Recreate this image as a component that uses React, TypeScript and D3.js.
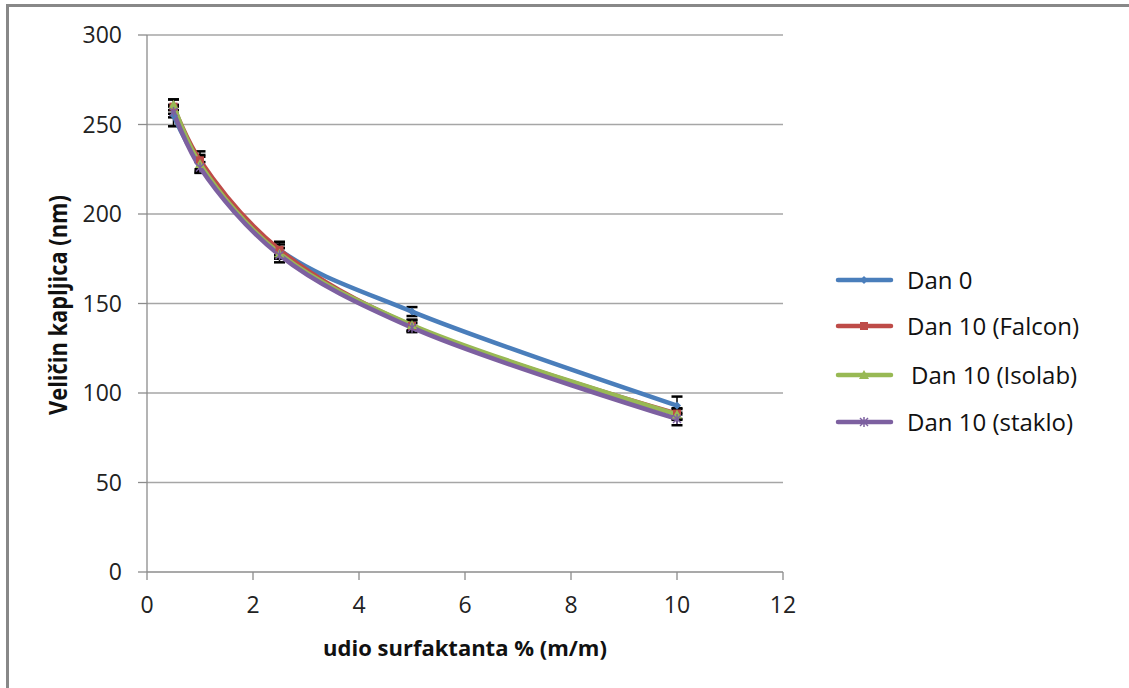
import React from "react";
import * as d3 from "d3";

const xValues = [0.5, 1, 2.5, 5, 10];
const seriesNames = ["Dan 0", "Dan 10 (Falcon)", "Dan 10 (Isolab)", "Dan 10 (staklo)"];
const dan0 = [255, 228, 180, 145.5, 93];
const falcon = [260, 230, 180, 137.5, 88.5];
const isolab = [261, 228, 178, 138, 88];
const staklo = [257, 226, 177, 136.5, 85.5];
const dan0Err = [6, 5, 3, 2.5, 5];
const falconErr = [4, 5, 4.5, 3, 3];
const isolabErr = [3, 4, 3, 3, 3];
const stakloErr = [3, 3, 4, 2.5, 3.5];
const xTicks = [0, 2, 4, 6, 8, 10, 12];
const yTicks = [0, 50, 100, 150, 200, 250, 300];
const colors = ["#4A7EBB", "#BE4B48", "#98B954", "#7D60A0"];
const markers = ["diamond", "square", "triangle", "star"];

const seriesValues = [dan0, falcon, isolab, staklo];
const seriesErrs = [dan0Err, falconErr, isolabErr, stakloErr];

const FONT = "'Open Sans', sans-serif";

function Marker({ type, x, y, color }: { type: string; x: number; y: number; color: string }) {
  if (type === "diamond") {
    const s = 4;
    return <path d={`M${x},${y - s}L${x + s},${y}L${x},${y + s}L${x - s},${y}Z`} fill={color} />;
  }
  if (type === "square") {
    return <rect x={x - 4} y={y - 4} width={8} height={8} fill={color} />;
  }
  if (type === "triangle") {
    return <path d={`M${x},${y - 5}L${x + 5},${y + 4}L${x - 5},${y + 4}Z`} fill={color} />;
  }
  return (
    <g stroke={color} strokeWidth={1.5}>
      <line x1={x - 4} y1={y - 4} x2={x + 4} y2={y + 4} />
      <line x1={x - 4} y1={y + 4} x2={x + 4} y2={y - 4} />
      <line x1={x} y1={y - 5} x2={x} y2={y + 5} />
    </g>
  );
}

export default function App() {
  const W = 1129;
  const H = 688;
  const left = 147;
  const right = 783;
  const top = 35;
  const bottom = 572;
  const x = d3.scaleLinear().domain([0, 12]).range([left, right]);
  const y = d3.scaleLinear().domain([0, 300]).range([bottom, top]);
  const line = d3
    .line<[number, number]>()
    .x((d) => x(d[0]))
    .y((d) => y(d[1]))
    .curve(d3.curveCatmullRom.alpha(0.5));

  const legendY = [280, 326, 375, 422];

  return (
    <svg
      width={W}
      height={H}
      style={{ position: "absolute", left: 0, top: 0, background: "#fff" }}
      fontFamily={FONT}
    >
      <rect x={0} y={0} width={W} height={H} fill="#fff" />
      {/* outer frame */}
      <line x1={7} y1={5.5} x2={W} y2={5.5} stroke="#888" strokeWidth={3} />
      <line x1={7.5} y1={4} x2={7.5} y2={H} stroke="#888" strokeWidth={3} />

      {/* gridlines */}
      {yTicks.filter((t) => t > 0).map((t) => (
        <line key={t} x1={left} x2={right} y1={y(t)} y2={y(t)} stroke="#A6A6A6" strokeWidth={1.3} />
      ))}
      {/* axes */}
      <line x1={left} x2={left} y1={top} y2={bottom} stroke="#8C8C8C" strokeWidth={1.3} />
      <line x1={left} x2={right} y1={bottom} y2={bottom} stroke="#8C8C8C" strokeWidth={1.3} />
      {yTicks.map((t) => (
        <g key={t}>
          <line x1={left - 9} x2={left} y1={y(t)} y2={y(t)} stroke="#8C8C8C" strokeWidth={1.3} />
          <text x={122} y={y(t)} dy="0.36em" textAnchor="end" fontSize={23} fill="#222">
            {t}
          </text>
        </g>
      ))}
      {xTicks.map((t) => (
        <g key={t}>
          <line x1={x(t)} x2={x(t)} y1={bottom} y2={bottom + 8} stroke="#8C8C8C" strokeWidth={1.3} />
          <text x={x(t)} y={613} textAnchor="middle" fontSize={23} fill="#222">
            {t}
          </text>
        </g>
      ))}

      {/* axis titles */}
      <text
        x={465}
        y={656}
        textAnchor="middle"
        fontSize={22}
        fontWeight="bold"
        fill="#111"
      >
        udio surfaktanta % (m/m)
      </text>
      <text
        transform={`translate(67,305) rotate(-90)`}
        x={-110}
        y={0}
        fontSize={25}
        fontWeight="bold"
        fill="#111"
        textLength={220}
        lengthAdjust="spacingAndGlyphs"
      >
        Veličin kapljica (nm)
      </text>

      {/* error bars (beneath lines/markers) */}
      {seriesValues.map((vals, i) =>
        vals.map((v, j) => {
          const cx = x(xValues[j]);
          const e = seriesErrs[i][j];
          return (
            <g key={`e${i}-${j}`} stroke="#000">
              <line x1={cx} x2={cx} y1={y(v + e)} y2={y(v - e)} strokeWidth={1.5} />
              <line x1={cx - 5.5} x2={cx + 5.5} y1={y(v + e)} y2={y(v + e)} strokeWidth={2.5} />
              <line x1={cx - 5.5} x2={cx + 5.5} y1={y(v - e)} y2={y(v - e)} strokeWidth={2.5} />
            </g>
          );
        })
      )}

      {/* series lines */}
      {seriesValues.map((vals, i) => (
        <path
          key={seriesNames[i]}
          d={line(xValues.map((xv, j) => [xv, vals[j]] as [number, number])) || ""}
          fill="none"
          stroke={colors[i]}
          strokeWidth={4.5}
          strokeLinecap="round"
        />
      ))}
      {/* markers */}
      {seriesValues.map((vals, i) =>
        vals.map((v, j) => (
          <Marker key={`${i}-${j}`} type={markers[i]} x={x(xValues[j])} y={y(v)} color={colors[i]} />
        ))
      )}

      {/* legend */}
      {seriesNames.map((name, i) => (
        <g key={name}>
          <line
            x1={838}
            x2={891}
            y1={legendY[i]}
            y2={legendY[i]}
            stroke={colors[i]}
            strokeWidth={4.5}
            strokeLinecap="round"
          />
          <Marker type={markers[i]} x={864} y={legendY[i]} color={colors[i]} />
          <text x={i === 2 ? 911 : 907} y={legendY[i]} dy="0.36em" fontSize={24} fill="#111">
            {name}
          </text>
        </g>
      ))}
    </svg>
  );
}
